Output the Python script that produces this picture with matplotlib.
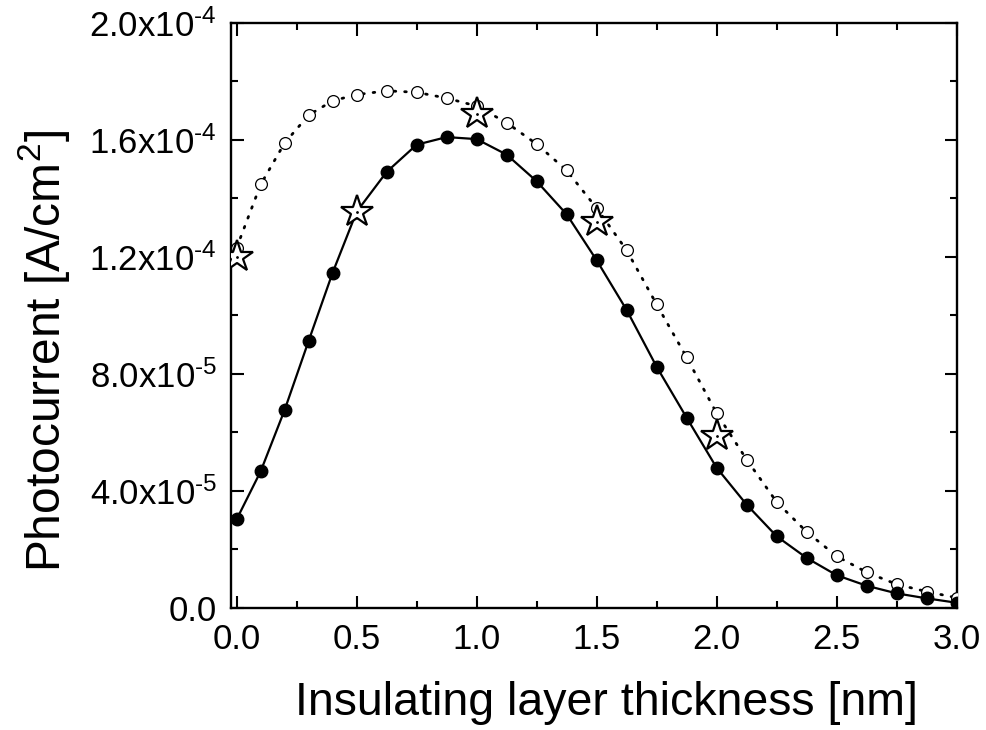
import matplotlib
matplotlib.use("Agg")
import matplotlib.pyplot as plt
from matplotlib.ticker import MultipleLocator, FuncFormatter

plt.rcParams['font.family'] = ['Liberation Sans', 'DejaVu Sans']
plt.rcParams['mathtext.fontset'] = 'custom'
plt.rcParams['mathtext.rm'] = 'Liberation Sans'
plt.rcParams['mathtext.it'] = 'Liberation Sans'

# filled circles + solid curve
x_filled = [0.0, 0.1, 0.2, 0.3, 0.4, 0.5, 0.625, 0.75, 0.875, 1.0, 1.125, 1.25, 1.375,
            1.5, 1.625, 1.75, 1.875, 2.0, 2.125, 2.25, 2.375, 2.5, 2.625, 2.75, 2.875, 3.0]
y_filled = [3.03e-5, 4.67e-5, 6.77e-5, 9.13e-5, 1.146e-4, 1.354e-4, 1.49e-4, 1.583e-4,
            1.609e-4, 1.602e-4, 1.549e-4, 1.458e-4, 1.345e-4, 1.188e-4, 1.018e-4, 8.24e-5,
            6.5e-5, 4.79e-5, 3.53e-5, 2.45e-5, 1.71e-5, 1.12e-5, 7.6e-6, 5.0e-6, 3.3e-6, 1.8e-6]

# open circles + dotted curve
x_open = [0.0, 0.1, 0.2, 0.3, 0.4, 0.5, 0.625, 0.75, 0.875, 1.0, 1.125, 1.25, 1.375,
          1.5, 1.625, 1.75, 1.875, 2.0, 2.125, 2.25, 2.375, 2.5, 2.625, 2.75, 2.875, 3.0]
y_open = [1.231e-4, 1.447e-4, 1.589e-4, 1.684e-4, 1.733e-4, 1.754e-4, 1.767e-4, 1.762e-4,
          1.742e-4, 1.715e-4, 1.658e-4, 1.585e-4, 1.495e-4, 1.366e-4, 1.222e-4, 1.037e-4,
          8.56e-5, 6.65e-5, 5.07e-5, 3.62e-5, 2.6e-5, 1.77e-5, 1.22e-5, 8.1e-6, 5.6e-6, 3.5e-6]

# stars
x_star = [0.0, 0.5, 1.0, 1.5, 2.0]
y_star = [1.199e-4, 1.354e-4, 1.688e-4, 1.32e-4, 5.89e-5]

fig = plt.figure(figsize=(9.87, 7.30), dpi=100)
ax = fig.add_axes([0.2337, 0.1671, 0.7356, 0.8019])

ax.plot(x_open, y_open, color='black', lw=2.0, linestyle=(0, (0.6, 3.2)),
        dash_capstyle='round', zorder=2)
ax.plot(x_open, y_open, 'o', ms=8.5, mfc='white', mec='black', mew=0.9, zorder=3)

ax.plot(x_filled, y_filled, color='black', lw=1.6, zorder=4)
ax.plot(x_filled, y_filled, 'o', ms=9, color='black', zorder=5)

ax.plot(x_star, y_star, '*', ms=24, mfc='white', mec='black', mew=1.6, zorder=6)
ax.plot(x_star, y_star, '.', ms=2, color='black', zorder=7)

ax.set_xlim(-0.025, 3.0)
ax.set_ylim(0, 2.0e-4)

ax.xaxis.set_major_locator(MultipleLocator(0.5))
ax.xaxis.set_minor_locator(MultipleLocator(0.25))
ax.yaxis.set_major_locator(MultipleLocator(4e-5))
ax.yaxis.set_minor_locator(MultipleLocator(2e-5))


def sci_fmt(v, pos):
    if abs(v) < 1e-12:
        return '0.0'
    exp = int(f"{v:e}".split('e')[1])
    mant = v / 10 ** exp
    return r'$\mathregular{%.1fx10^{\text{-}%d}}$' % (mant, -exp)


ax.yaxis.set_major_formatter(FuncFormatter(sci_fmt))
ax.xaxis.set_major_formatter(FuncFormatter(lambda v, p: f"{v:.1f}"))

ax.tick_params(which='both', direction='in', top=True, right=True, width=1.5,
               labelsize=25)
ax.tick_params(which='major', length=9)
ax.tick_params(which='minor', length=5)
ax.tick_params(axis='x', pad=11)
ax.tick_params(axis='y', pad=10)
for s in ax.spines.values():
    s.set_linewidth(1.7)

ax.set_xlabel('Insulating layer thickness [nm]', fontsize=33.5)
ax.set_ylabel(r'Photocurrent [A/cm$^2$]', fontsize=34.5)
ax.xaxis.set_label_coords(0.517, -0.125)
ax.yaxis.set_label_coords(-0.219, 0.439)

fig.savefig('out.png', dpi=100)
